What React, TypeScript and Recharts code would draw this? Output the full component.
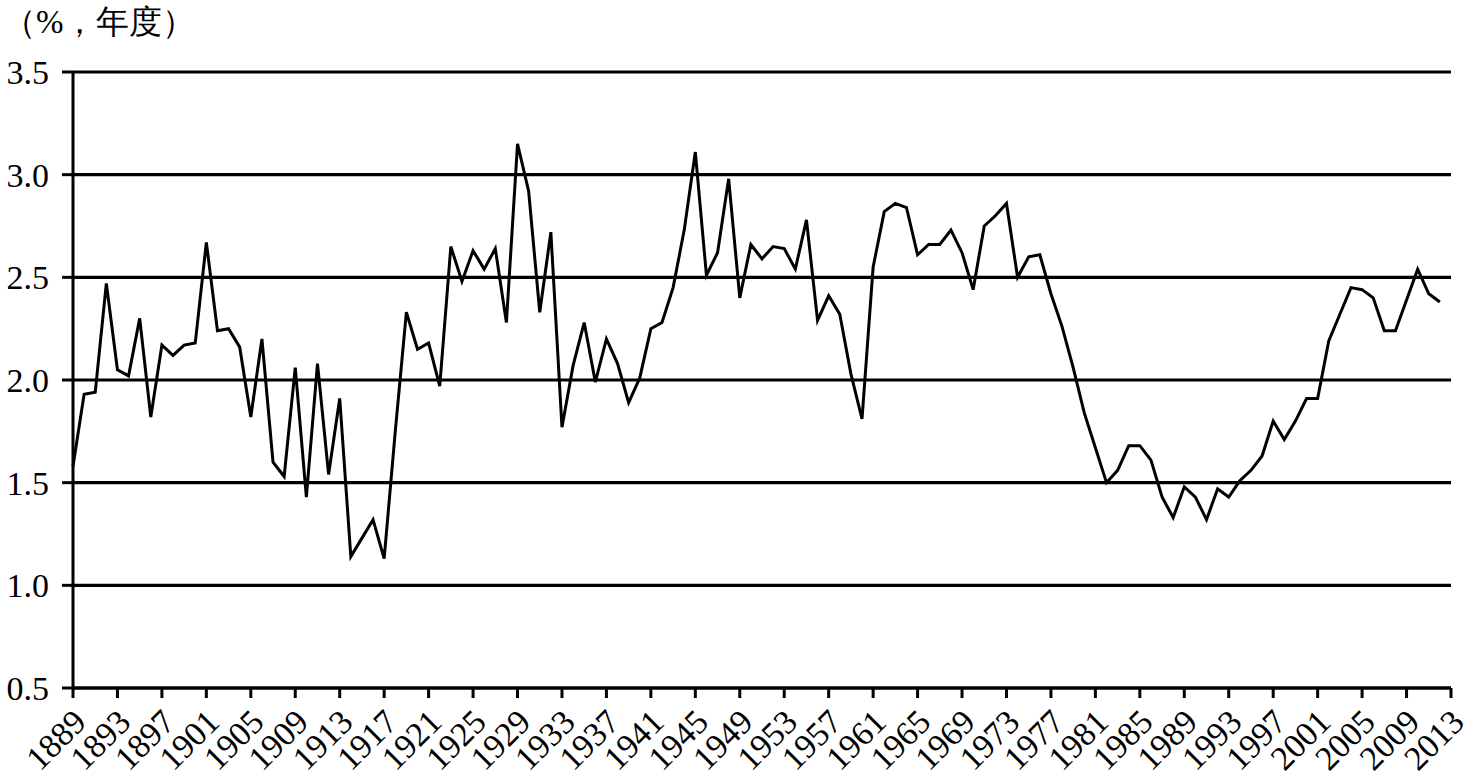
import React from 'react';
import { LineChart, Line, XAxis, YAxis, CartesianGrid } from 'recharts';

const years: number[] = [
  1889, 1890, 1891, 1892, 1893, 1894, 1895, 1896, 1897, 1898, 1899, 1900,
  1901, 1902, 1903, 1904, 1905, 1906, 1907, 1908, 1909, 1910, 1911, 1912,
  1913, 1914, 1915, 1916, 1917, 1918, 1919, 1920, 1921, 1922, 1923, 1924,
  1925, 1926, 1927, 1928, 1929, 1930, 1931, 1932, 1933, 1934, 1935, 1936,
  1937, 1938, 1939, 1940, 1941, 1942, 1943, 1944, 1945, 1946, 1947, 1948,
  1949, 1950, 1951, 1952, 1953, 1954, 1955, 1956, 1957, 1958, 1959, 1960,
  1961, 1962, 1963, 1964, 1965, 1966, 1967, 1968, 1969, 1970, 1971, 1972,
  1973, 1974, 1975, 1976, 1977, 1978, 1979, 1980, 1981, 1982, 1983, 1984,
  1985, 1986, 1987, 1988, 1989, 1990, 1991, 1992, 1993, 1994, 1995, 1996,
  1997, 1998, 1999, 2000, 2001, 2002, 2003, 2004, 2005, 2006, 2007, 2008,
  2009, 2010, 2011, 2012,
];

const rates: number[] = [
  1.58, 1.93, 1.94, 2.47, 2.05, 2.02, 2.30, 1.82, 2.17, 2.12, 2.17, 2.18,
  2.67, 2.24, 2.25, 2.16, 1.82, 2.20, 1.60, 1.53, 2.06, 1.43, 2.08, 1.54,
  1.91, 1.14, 1.23, 1.32, 1.13, 1.75, 2.33, 2.15, 2.18, 1.97, 2.65, 2.48,
  2.63, 2.54, 2.64, 2.28, 3.15, 2.92, 2.33, 2.72, 1.77, 2.07, 2.28, 1.99,
  2.20, 2.08, 1.89, 2.01, 2.25, 2.28, 2.45, 2.73, 3.11, 2.51, 2.62, 2.98,
  2.40, 2.66, 2.59, 2.65, 2.64, 2.54, 2.78, 2.29, 2.41, 2.32, 2.03, 1.81,
  2.55, 2.82, 2.86, 2.84, 2.61, 2.66, 2.66, 2.73, 2.62, 2.44, 2.75, 2.80,
  2.86, 2.50, 2.60, 2.61, 2.42, 2.26, 2.06, 1.84, 1.67, 1.50, 1.56, 1.68,
  1.68, 1.61, 1.43, 1.33, 1.48, 1.43, 1.32, 1.47, 1.43, 1.51, 1.56, 1.63,
  1.80, 1.71, 1.80, 1.91, 1.91, 2.19, 2.32, 2.45, 2.44, 2.40, 2.24, 2.24,
  2.39, 2.54, 2.42, 2.38,
];

const xTicks: number[] = [
  1889, 1893, 1897, 1901, 1905, 1909, 1913, 1917, 1921, 1925, 1929, 1933,
  1937, 1941, 1945, 1949, 1953, 1957, 1961, 1965, 1969, 1973, 1977, 1981,
  1985, 1989, 1993, 1997, 2001, 2005, 2009, 2013,
];

const yTicks: number[] = [0.5, 1.0, 1.5, 2.0, 2.5, 3.0, 3.5];

const unitLabel = '（%，年度）';

const data = years.map((year, i) => ({ year, rate: rates[i] }));

const FONT = '"Liberation Serif", "Times New Roman", serif';

const XTick = (props: any) => {
  const { x, y, payload } = props;
  const ax = x + 15;
  const ay = y + 24;
  return (
    <text
      x={ax}
      y={ay}
      textAnchor="end"
      fontFamily={FONT}
      fontSize={34}
      fill="#000"
      transform={`rotate(-45, ${ax}, ${ay})`}
    >
      {payload.value}
    </text>
  );
};

export default function App() {
  return (
    <div style={{ position: 'absolute', left: 0, top: 0, width: 1473, height: 780, background: '#fff' }}>
      <LineChart
        width={1473}
        height={780}
        data={data}
        margin={{ top: 72, right: 22, left: 0, bottom: 0 }}
      >
        <CartesianGrid vertical={false} stroke="#000" strokeWidth={3.2} />
        <XAxis
          dataKey="year"
          type="number"
          domain={[1889, 2013]}
          ticks={xTicks}
          interval={0}
          height={92}
          axisLine={{ stroke: '#000', strokeWidth: 3 }}
          tickLine={{ stroke: '#000', strokeWidth: 3 }}
          tickSize={10}
          tickMargin={2}
          tick={<XTick />}
        />
        <YAxis
          type="number"
          domain={[0.5, 3.5]}
          ticks={yTicks}
          interval={0}
          width={73}
          axisLine={{ stroke: '#000', strokeWidth: 3 }}
          tickLine={{ stroke: '#000', strokeWidth: 3 }}
          tickSize={11}
          tickMargin={13}
          tickFormatter={(v: number) => v.toFixed(1)}
          tick={{ fill: '#000', fontSize: 34, fontFamily: FONT }}
        />
        <Line
          type="linear"
          dataKey="rate"
          stroke="#000"
          strokeWidth={3}
          dot={false}
          isAnimationActive={false}
        />
        <text x={3} y={33} fontSize={33} fontFamily={FONT} fill="#000">
          {unitLabel}
        </text>
      </LineChart>
    </div>
  );
}
